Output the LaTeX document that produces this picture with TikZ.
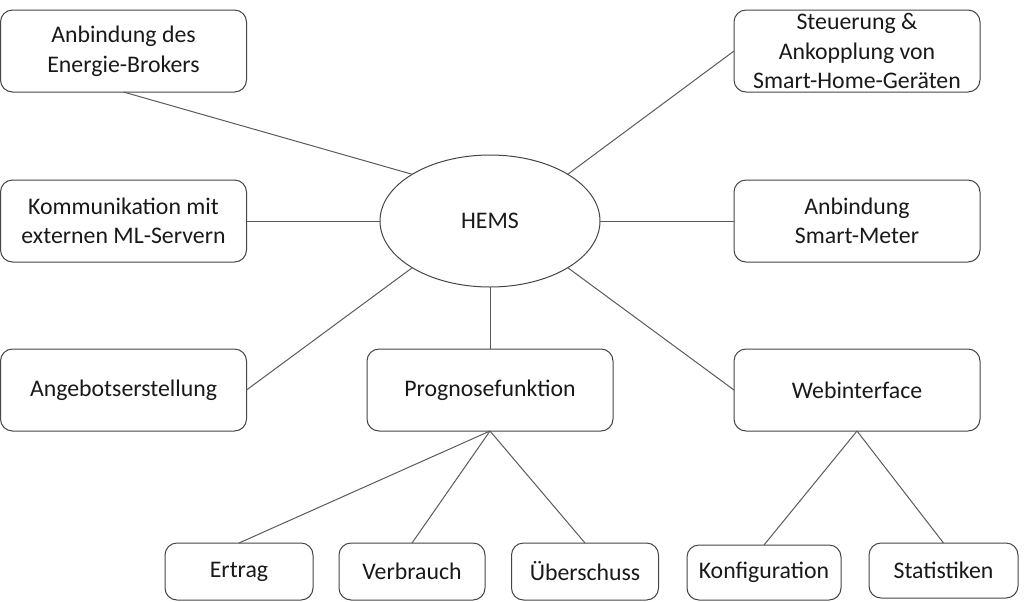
\documentclass[tikz,border=0pt]{standalone}
\usepackage{fontspec}
\setmainfont{Carlito}
\usepackage{tikz}
\usetikzlibrary{shapes.geometric}
\definecolor{rand}{HTML}{454545}
\definecolor{linie}{HTML}{5A5A5A}
\tikzset{
    every node/.style={align=center,font=\fontsize{11.9}{14.8}\selectfont,text=black!90,},
    modul/.style={draw=rand,rectangle,rounded corners=6pt,line width=0.5pt,minimum width=123pt,minimum height=41pt,inner sep=0pt,outer sep=0pt,},
    teil/.style={modul,minimum width=74pt,minimum height=28.5pt,},
    kern/.style={draw=rand,ellipse,line width=0.5pt,minimum width=110pt,minimum height=66pt,inner sep=0pt,outer sep=0pt,},
    verbindung/.style={draw=linie,line width=0.5pt,},
}

\begin{document}
\begin{tikzpicture}[x=0.5pt,y=-0.5pt]
                \useasboundingbox (0,0) rectangle (1024,601);

                \node[kern] (hems) at (490, 221) {HEMS};

                \node[modul] (broker) at (123.5, 51) {Anbindung des\\Energie-Brokers};
                \node[modul] (ml) at (123.5, 221) {Kommunikation mit\\externen ML-Servern};
                \node[modul] (angebot) at (123.5, 390) {Angebotserstellung};

                \node[modul] (smarthome) at (857, 51) {Steuerung \&\\Ankopplung von\\Smart-Home-Geräten};
                \node[modul] (meter) at (857, 221) {Anbindung\\Smart-Meter};
                \node[modul] (web) at (857, 390) {Webinterface};

                \node[modul] (prognose) at (490, 390) {Prognosefunktion};

                \node[teil] (ertrag) at (239, 571.5) {Ertrag};
                \node[teil, minimum width=73pt] (verbrauch) at (412, 571.5) {Verbrauch};
                \node[teil, minimum width=73.5pt] (ueberschuss) at (585, 571.5) {Überschuss};

                \node[teil, minimum width=77pt, minimum height=27.5pt] (konfig) at (764, 572.5) {Konfiguration};
                \node[teil, minimum width=74.5pt, minimum height=27.5pt] (statistik) at (943.5, 570.5) {Statistiken};

                \draw[verbindung] (broker.south) to (hems.149);
                \draw[verbindung] (ml.east) to (hems.west);
                \draw[verbindung] (angebot.east) to (hems.211);
                \draw[verbindung] (smarthome.west) to (hems.31);
                \draw[verbindung] (meter.west) to (hems.east);
                \draw[verbindung] (web.west) to (hems.329);
                \draw[verbindung] (hems.south) to (prognose.north);

                \draw[verbindung] (prognose.south) to (ertrag.north);
                \draw[verbindung] (prognose.south) to (verbrauch.north);
                \draw[verbindung] (prognose.south) to (ueberschuss.north);

                \draw[verbindung] (web.south) to (konfig.north);
                \draw[verbindung] (web.south) to (statistik.north);
            \end{tikzpicture}
\end{document}
